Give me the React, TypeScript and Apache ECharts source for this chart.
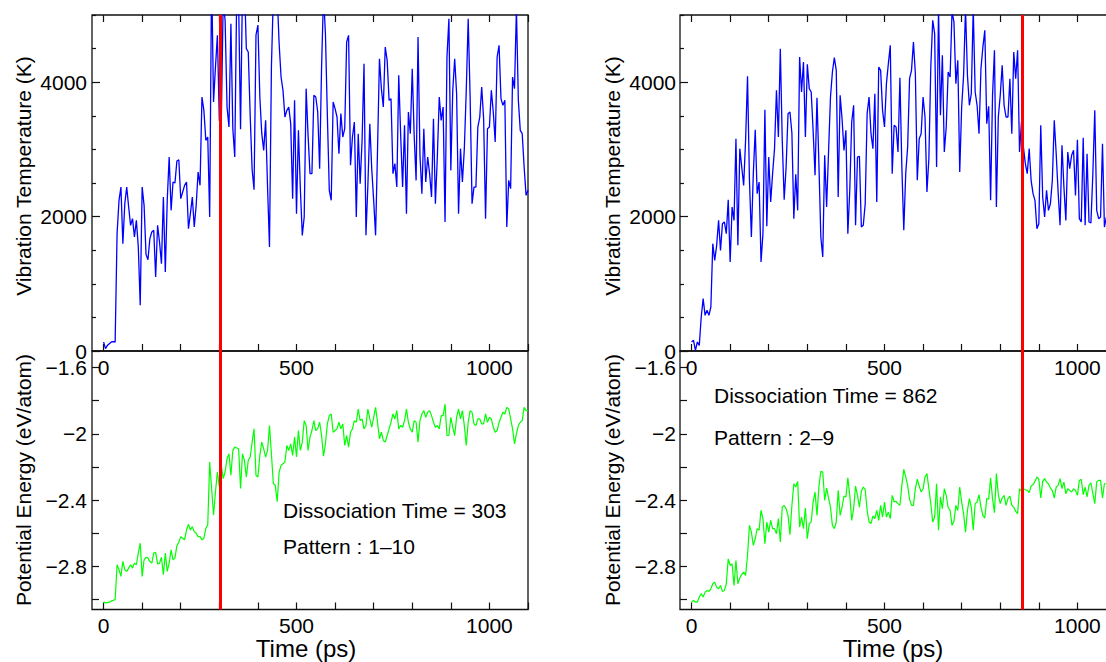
import React, { useEffect, useRef } from 'react';
import * as echarts from 'echarts';

// ---- data (sampled every T_STEP ps) ----
const T_STEP = 5;

const leftTemp = [
  134, 35, 84, 109, 134, 139, 134, 1746, 2242, 2440,
  1597, 2192, 2440, 2143, 1870, 1969, 1696, 1944, 1548, 680,
  2440, 2168, 1438, 1359, 1672, 1771, 1796, 1101, 1870, 1622,
  1300, 2292, 1176, 2242, 2887, 2093, 2515, 2500, 2827, 2847,
  2267, 2366, 2465, 2515, 1820, 2044, 2292, 1845, 2168, 2664,
  2465, 3780, 3581, 3135, 3184, 1994, 5600, 3705, 4226, 4697,
  3432, 3383, 5200, 4920, 3630, 3333, 4870, 3308, 2887, 5300,
  5200, 3300, 5400, 5500, 4500, 4450, 3500, 2700, 2400, 4700,
  4850, 3780, 3234, 2986, 3432, 2440, 1548, 4226, 5300, 5500,
  5300, 4573, 4077, 3879, 3482, 3581, 3630, 3383, 2267, 3730,
  2044, 3283, 2415, 1721, 1994, 3904, 3209, 2639, 2639, 3804,
  3780, 3556, 2713, 4226, 5300, 4722, 3507, 2391, 2242, 3705,
  3606, 3482, 2936, 3532, 3184, 3308, 4598, 4697, 2763, 3184,
  3408, 1994, 3234, 2490, 3135, 4276, 1721, 2465, 3383, 2713,
  2242, 1721, 2986, 4350, 3904, 3631, 4523, 4325, 3730, 3755,
  2639, 2788, 2440, 4102, 3209, 2440, 3358, 2044, 3556, 3234,
  4201, 3209, 2539, 4672, 2912, 2341, 3308, 2515, 2887, 2639,
  2292, 3457, 2192, 2887, 3780, 3432, 3631, 1920, 4375, 4945,
  2688, 3879, 4350, 3829, 2044, 3011, 2515, 3011, 3879, 4945,
  3780, 2192, 2440, 2440, 3333, 3482, 3928, 3457, 1969, 3308,
  3333, 3879, 3556, 3110, 4375, 4548, 3755, 3656, 3730, 1845,
  2539, 2415, 4077, 3904, 5100, 3730, 3283, 3234, 2738, 2316,
  2391,
];

const leftEnergy = [
  -3.014, -3.02, -3.018, -3.016, -3.008, -3.005, -3.0, -2.79, -2.82, -2.86,
  -2.77, -2.82, -2.83, -2.81, -2.79, -2.81, -2.78, -2.79, -2.72, -2.66,
  -2.86, -2.76, -2.745, -2.75, -2.77, -2.78, -2.72, -2.715, -2.785, -2.78,
  -2.745, -2.85, -2.72, -2.83, -2.78, -2.7, -2.76, -2.75, -2.675, -2.655,
  -2.62, -2.63, -2.64, -2.58, -2.545, -2.58, -2.56, -2.59, -2.6, -2.62,
  -2.62, -2.64, -2.63, -2.57, -2.55, -2.17, -2.33, -2.49, -2.35, -2.23,
  -2.32, -2.19, -2.27, -2.23, -2.15, -2.12, -2.25, -2.1, -2.08, -2.085,
  -2.09, -2.33, -2.12, -2.16, -2.26, -2.16, -2.14, -2.05, -1.97, -2.25,
  -2.26, -2.13, -2.05, -2.09, -2.14, -2.1, -1.95, -2.12, -2.3, -2.31,
  -2.41, -2.23, -2.19, -2.18, -2.17, -2.07, -2.1, -2.06, -2.13, -2.02,
  -2.14, -1.98, -2.1, -2.05, -1.92, -1.95, -2.1, -2.02, -1.98, -1.92,
  -1.98, -1.97, -1.93, -2.01, -2.135, -2.06, -1.94, -1.89, -1.88, -1.99,
  -1.98, -1.97, -1.93, -1.97, -1.94, -2.07, -2.01, -2.08, -1.99, -1.97,
  -1.92, -1.93, -1.85, -1.92, -1.91, -1.97, -1.95, -1.85, -1.91, -1.96,
  -1.9, -1.84, -1.93, -2.03, -1.99, -2.04, -2.05, -2.01, -1.97, -1.93,
  -1.88, -1.91, -1.86, -1.97, -1.95, -1.96, -1.92, -1.85, -1.93, -1.97,
  -1.99, -1.92, -1.93, -2.05, -1.92, -1.88, -1.86, -1.9, -1.87, -1.86,
  -1.89, -1.93, -1.96, -1.95, -1.97, -1.89, -1.89, -1.82, -2.01, -2.01,
  -1.9, -1.96, -2.01, -1.9, -1.85, -1.91, -1.86, -1.95, -2.07, -1.93,
  -1.86, -1.87, -1.94, -1.95, -1.91, -1.91, -1.94, -1.94, -1.88, -1.93,
  -1.9, -1.91, -1.96, -1.99, -1.98, -1.93, -1.9, -1.87, -1.88, -1.84,
  -1.85, -1.91, -1.97, -2.06, -2.0, -1.95, -1.93, -1.92, -1.84, -1.86,
  -1.86,
];

const rightTemp = [
  134, 159, 10, 134, 84, 506, 779, 531, 605, 531,
  655, 1597, 1349, 1572, 1944, 1498, 1895, 1920, 1746, 2252,
  1324, 2143, 1944, 3160, 1572, 3011, 2738, 2465, 3135, 4087,
  2540, 1696, 2639, 3293, 2341, 2515, 1324, 1746, 3591, 1855,
  2887, 2217, 2639, 3011, 3879, 3184, 4499, 3135, 2252, 2738,
  3532, 3556, 3244, 1969, 2629, 2093, 4375, 3854, 4300, 3184,
  4266, 3904, 3854, 3284, 2614, 3770, 2788, 1696, 1399, 2912,
  2143, 2961, 3780, 4152, 4365, 4176, 2292, 3804, 3457, 2986,
  3284, 1746, 2391, 3408, 3656, 1870, 2887, 2897, 1845, 1870,
  2192, 3532, 3780, 3234, 3011, 3829, 2217, 4226, 4176, 3581,
  3333, 3978, 4276, 4548, 2639, 3358, 3333, 2961, 4067, 2738,
  1796, 2639, 3036, 4052, 4176, 4598, 4127, 2540, 3160, 3234,
  3780, 3482, 2366, 2862, 4226, 4920, 4722, 2738, 5100, 3507,
  4400, 2961, 3333, 4152, 4077, 5050, 4896, 3978, 4325, 2664,
  3631, 4102, 5100, 4102, 3656, 3829, 5100, 3854, 3656, 3234,
  4201, 4523, 4772, 3383, 3641, 2242, 3804, 4474, 2143, 3482,
  3804, 4251, 3656, 3482, 3482, 4052, 3234, 4449, 4052, 4474,
  2961, 3408, 3036, 2788, 2639, 3011, 2540, 2341, 2242, 1820,
  1895, 3358, 2292, 1994, 2391, 2093, 2192, 2540, 3432, 2936,
  2366, 1870, 3061, 2440, 1944, 2961, 2713, 2912, 2986, 2316,
  3145, 1969, 1920, 3174, 1870, 2936, 1920, 1905, 2639, 3581,
  2093, 1969, 1994, 3085, 1845, 1994,
];

const rightEnergy = [
  -3.015, -3.005, -3.015, -3.015, -2.985, -2.965, -2.985, -2.955, -2.945, -2.951,
  -2.935, -2.905, -2.895, -2.925, -2.935, -2.915, -2.951, -2.945, -2.905, -2.754,
  -2.794, -2.784, -2.915, -2.764, -2.905, -2.87, -2.848, -2.834, -2.854, -2.733,
  -2.552, -2.593, -2.673, -2.633, -2.572, -2.582, -2.462, -2.512, -2.663, -2.532,
  -2.593, -2.522, -2.572, -2.572, -2.603, -2.512, -2.653, -2.442, -2.432, -2.452,
  -2.492, -2.609, -2.432, -2.301, -2.321, -2.287, -2.562, -2.502, -2.572, -2.448,
  -2.633, -2.542, -2.532, -2.411, -2.351, -2.492, -2.321, -2.226, -2.23, -2.401,
  -2.327, -2.387, -2.442, -2.552, -2.572, -2.532, -2.341, -2.492, -2.442, -2.375,
  -2.381, -2.266, -2.371, -2.522, -2.452, -2.315, -2.371, -2.442, -2.347, -2.321,
  -2.335, -2.462, -2.532, -2.542, -2.496, -2.512, -2.462, -2.522, -2.432, -2.502,
  -2.411, -2.502, -2.472, -2.512, -2.371, -2.411, -2.407, -2.421, -2.432, -2.311,
  -2.214, -2.26, -2.311, -2.395, -2.432, -2.432, -2.331, -2.274, -2.315, -2.351,
  -2.331, -2.26, -2.24, -2.331, -2.421, -2.532, -2.502, -2.301, -2.582, -2.381,
  -2.452, -2.331, -2.371, -2.446, -2.462, -2.552, -2.528, -2.432, -2.462, -2.321,
  -2.411, -2.482, -2.593, -2.462, -2.391, -2.442, -2.582, -2.421, -2.411, -2.367,
  -2.442, -2.492, -2.508, -2.391, -2.395, -2.266, -2.391, -2.476, -2.24, -2.367,
  -2.421, -2.387, -2.371, -2.432, -2.391, -2.375, -2.432, -2.442, -2.468, -2.482,
  -2.331, -2.347, -2.331, -2.337, -2.341, -2.355, -2.315, -2.307, -2.287, -2.26,
  -2.274, -2.387, -2.287, -2.27, -2.291, -2.301, -2.327, -2.341, -2.387, -2.321,
  -2.311, -2.27, -2.331, -2.291, -2.361, -2.331, -2.341, -2.351, -2.331, -2.341,
  -2.371, -2.281, -2.274, -2.367, -2.321, -2.381, -2.311, -2.295, -2.361, -2.421,
  -2.291, -2.281, -2.281, -2.387, -2.301, -2.301,
];

const dissociationMarks = [303, 856];
const dissociationTexts = ['Dissociation Time = 303', 'Dissociation Time = 862'];
const patternTexts = ['Pattern : 1–10', 'Pattern : 2–9'];

const xTickValues = [0, 100, 200, 300, 400, 500, 600, 700, 800, 900, 1000, 1100];
const xLabelValues = [0, 500, 1000];
const tempLabelValues = [0, 2000, 4000];
const tempMinorValues = [500, 1000, 1500, 2500, 3000, 3500, 4500, 5000];
const energyLabelValues = [-1.6, -2, -2.4, -2.8];
const energyTickValues = [-1.6, -1.8, -2.0, -2.2, -2.4, -2.6, -2.8, -3.0];

const X_NAME = 'Time (ps)';
const Y_TEMP_NAME = 'Vibration Temperature (K)';
const Y_ENERGY_NAME = 'Potential Energy (eV/atom)';

// ---- layout / style ----
const FONT = '"Liberation Sans", Arial, Helvetica, sans-serif';
const INK = '#111';
const TOP = 15;
const MID = 351;
const BOTTOM_H = 258.5;
const PLOT_W = 436;
const CANVAS_W = 1130; // wider than the window: the right frame is cut off, as in the reference

const panels = [
  { left: 92, yNameX: 23, xNameX: 306, annX: 283, annY: [510, 546], labelMargin: 5 },
  { left: 680, yNameX: 612, xNameX: 893, annX: 714, annY: [395, 437], labelMargin: 4 },
];

const fmtPlain = (v: number) => String(Math.round(v));
const fmtEnergy = (v: number) => String(Math.round(v * 10) / 10).replace('-', '\u2212');

function xAxisCfg(gridIndex: number, position: string, showLabels: boolean) {
  return {
    type: 'value', gridIndex, position, min: -30, max: 1100,
    axisLine: { show: false, onZero: false },
    axisTick: { show: true, inside: true, length: 7, customValues: xTickValues, lineStyle: { color: INK, width: 1.2 } },
    axisLabel: {
      show: showLabels, customValues: xLabelValues, formatter: fmtPlain,
      fontSize: 21, lineHeight: 16, fontFamily: FONT, color: '#000', margin: 8,
    },
    splitLine: { show: false },
  };
}

function textEl(text: string, x: number, y: number, size: number, align: string, rotation = 0, lineHeight?: number) {
  return {
    type: 'text', x, y, rotation, z: 100,
    style: {
      text, fill: '#000', fontSize: size, fontFamily: FONT, lineHeight,
      align, verticalAlign: 'middle', textAlign: align, textVerticalAlign: 'middle',
    },
  };
}

export default function App() {
  const ref = useRef<HTMLDivElement>(null);
  useEffect(() => {
    if (!ref.current) return;
    const chart = echarts.init(ref.current, undefined, { renderer: 'svg' });
    const temps = [leftTemp, rightTemp];
    const energies = [leftEnergy, rightEnergy];
    const grid: any[] = [];
    const xAxis: any[] = [];
    const yAxis: any[] = [];
    const series: any[] = [];
    const graphic: any[] = [];

    panels.forEach((p, k) => {
      const gTop = 2 * k;
      const gBot = 2 * k + 1;
      grid.push({ left: p.left, top: TOP, width: PLOT_W, height: MID - TOP, show: true, borderColor: INK, borderWidth: 1.3, backgroundColor: 'rgba(0,0,0,0)' });
      grid.push({ left: p.left, top: MID, width: PLOT_W, height: BOTTOM_H, show: true, borderColor: INK, borderWidth: 1.3, backgroundColor: 'rgba(0,0,0,0)' });

      xAxis.push(xAxisCfg(gTop, 'bottom', true));
      xAxis.push(xAxisCfg(gTop, 'top', false));
      xAxis.push(xAxisCfg(gBot, 'bottom', true));

      yAxis.push({
        type: 'value', gridIndex: gTop, position: 'left', min: 0, max: 5000,
        axisLine: { show: false, onZero: false },
        axisTick: { show: true, inside: true, length: 8, customValues: tempLabelValues, lineStyle: { color: INK, width: 1.2 } },
        axisLabel: { customValues: tempLabelValues, formatter: fmtPlain, fontSize: 21, lineHeight: 15, fontFamily: FONT, color: '#000', margin: p.labelMargin },
        splitLine: { show: false },
      });
      yAxis.push({
        type: 'value', gridIndex: gTop, position: 'left', min: 0, max: 5000,
        axisLine: { show: false, onZero: false },
        axisTick: { show: true, inside: true, length: 4, customValues: tempMinorValues, lineStyle: { color: INK, width: 1.2 } },
        axisLabel: { show: false },
        splitLine: { show: false },
      });
      yAxis.push({
        type: 'value', gridIndex: gBot, position: 'left', min: -3.06, max: -1.5,
        axisLine: { show: false, onZero: false },
        axisTick: { show: true, inside: true, length: 7, customValues: energyTickValues, lineStyle: { color: INK, width: 1.2 } },
        axisLabel: { customValues: energyLabelValues, formatter: fmtEnergy, fontSize: 21, lineHeight: 15, fontFamily: FONT, color: '#000', margin: p.labelMargin },
        splitLine: { show: false },
      });

      const mark = {
        silent: true, symbol: 'none', animation: false,
        label: { show: false },
        lineStyle: { color: '#ff0000', width: 3, type: 'solid' },
        data: [{ xAxis: dissociationMarks[k] }],
      };

      series.push({
        type: 'line', xAxisIndex: 3 * k, yAxisIndex: 3 * k,
        data: temps[k].map((v, i) => [i * T_STEP, v]),
        showSymbol: false, clip: true,
        lineStyle: { color: '#0000ff', width: 1.3 },
        markLine: mark,
      });
      series.push({
        type: 'line', xAxisIndex: 3 * k + 2, yAxisIndex: 3 * k + 2,
        data: energies[k].map((v, i) => [i * T_STEP, v]),
        showSymbol: false, clip: true,
        lineStyle: { color: '#00ff00', width: 1.2 },
        markLine: mark,
      });

      graphic.push(textEl(Y_TEMP_NAME, p.yNameX, 176, 21, 'center', Math.PI / 2));
      graphic.push(textEl(Y_ENERGY_NAME, p.yNameX, 480, 21, 'center', Math.PI / 2));
      graphic.push(textEl(X_NAME, p.xNameX, 648, 24, 'center', 0, 18));
      graphic.push(textEl(dissociationTexts[k], p.annX, p.annY[0], 21, 'left'));
      graphic.push(textEl(patternTexts[k], p.annX, p.annY[1], 21, 'left'));
    });

    chart.setOption({
      animation: false,
      backgroundColor: '#ffffff',
      textStyle: { fontFamily: FONT },
      grid, xAxis, yAxis, series, graphic,
    });
    return () => chart.dispose();
  }, []);

  return (
    <div style={{ position: 'fixed', left: 0, top: 0, width: 1106, height: 662, overflow: 'hidden', background: '#fff' }}>
      <div ref={ref} style={{ position: 'absolute', left: 0, top: 0, width: CANVAS_W, height: 662 }} />
    </div>
  );
}
